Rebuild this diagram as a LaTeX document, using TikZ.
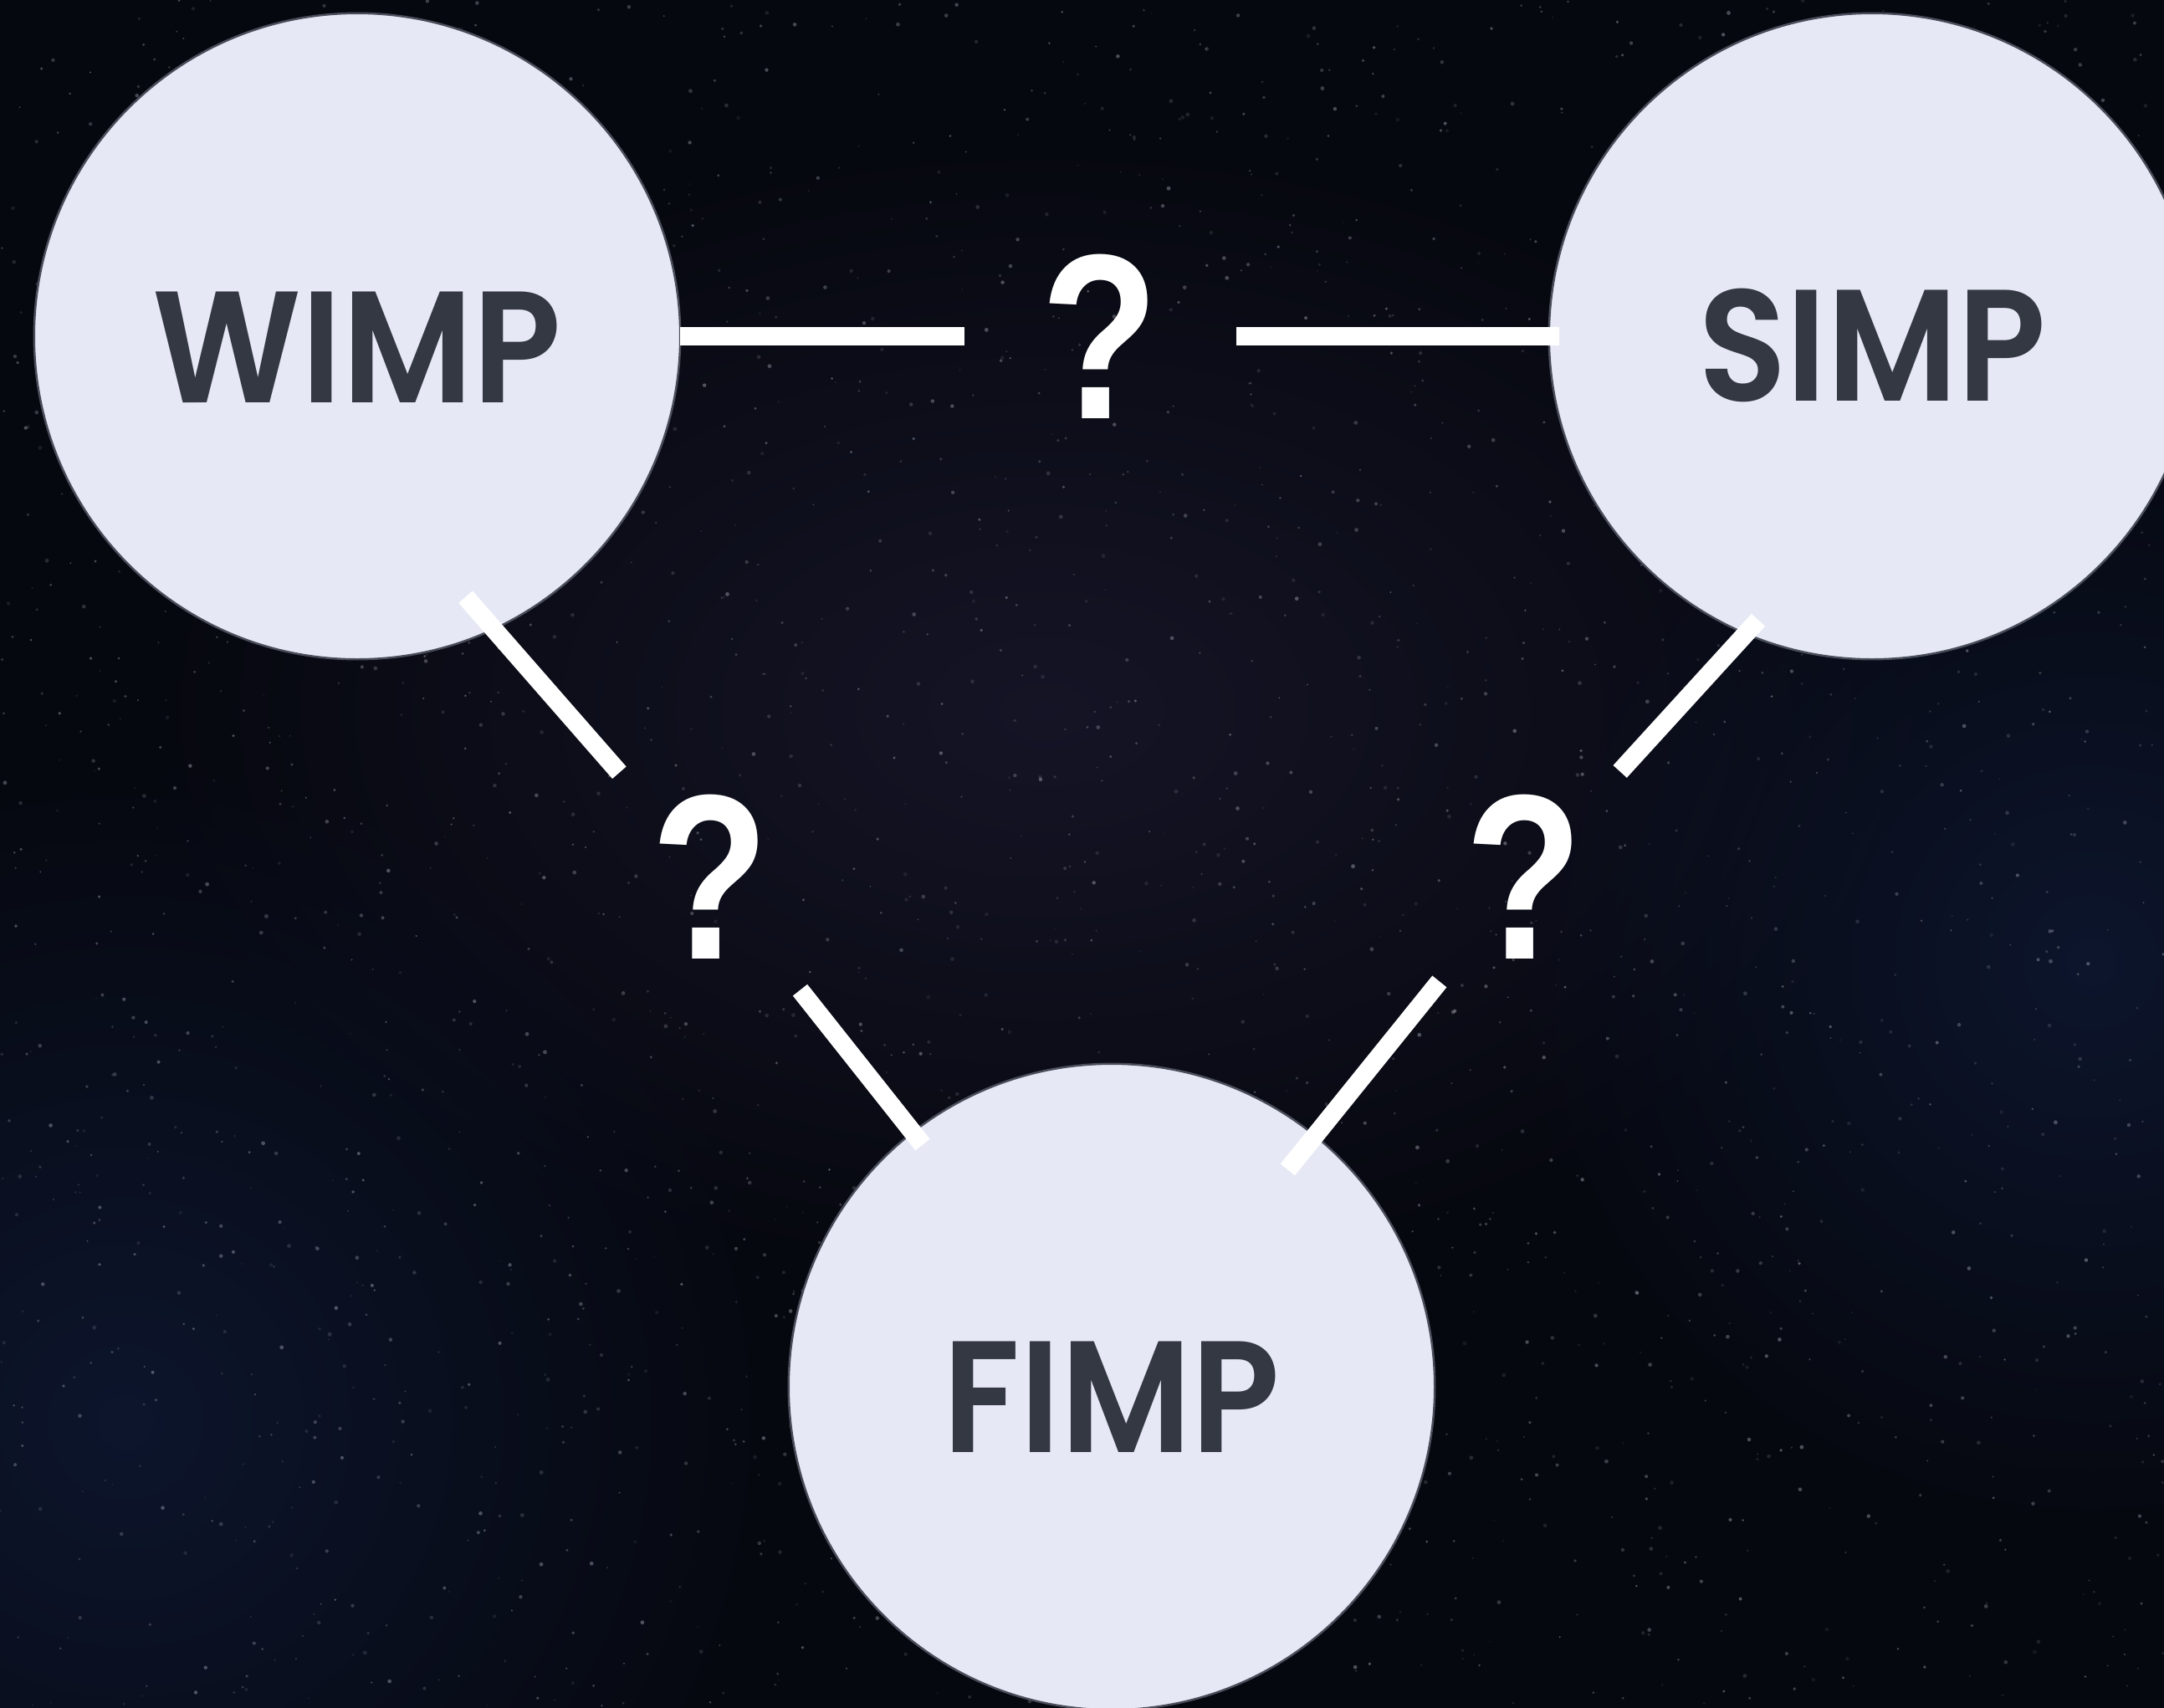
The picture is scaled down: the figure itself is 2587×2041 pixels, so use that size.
\documentclass[tikz,border=0pt]{standalone}
\usepackage{fontspec}
\setmainfont{Poppins}[BoldFont={* SemiBold}]
\newfontfamily\markfont{Liberation Sans}
\usetikzlibrary{fadings}

\definecolor{skybg}{HTML}{06080F}
\definecolor{skyhaze}{HTML}{171629}
\definecolor{skyblue}{HTML}{0E1730}
\definecolor{stardust}{HTML}{C8CAD8}
\definecolor{discfill}{HTML}{E6E9F5}
\definecolor{discline}{HTML}{4A4E5B}
\definecolor{labelgray}{HTML}{343843}

\tikzfading[name=skyglow, inner color=transparent!0, outer color=transparent!100]

% narrow white question mark and particle names
\newcommand{\qmark}{\scalebox{0.82}[1]{?}}
\newcommand{\pname}[1]{\scalebox{0.915}[1]{#1}}

\tikzset{
  disc/.style={circle, fill=discfill, draw=discline, line width=0.7pt,
    minimum size=7.72cm, inner sep=0pt, outer sep=0pt},
  tag/.style={text=labelgray, font=\fontsize{54}{54}\selectfont\bfseries, inner sep=0pt},
  query/.style={text=white, font=\markfont\fontsize{80}{80}\selectfont\bfseries, inner sep=0pt},
  link/.style={white, line width=0.22cm},
  glow/.style={path fading=skyglow, opacity=0.9},
}

\begin{document}
\begin{tikzpicture}[x=0.01cm, y=-0.01cm]
	% night sky
	\useasboundingbox (0,0) rectangle (2587,2041);
	\fill[skybg] (-20,-20) rectangle (2607,2061);
	\clip (0,0) rectangle (2587,2041);
	\fill[skyhaze, glow] (1250,850) ellipse[x radius=11cm, y radius=7cm];
	\fill[skyblue, glow] (150,1700) circle[radius=8cm];
	\fill[skyblue, glow] (2500,1150) circle[radius=7cm];

	% stars
	\pgfmathsetseed{42}
	\foreach \i in {1,...,2600}{
		\pgfmathsetmacro{\sx}{2587*rnd}
		\pgfmathsetmacro{\sy}{2041*rnd}
		\pgfmathsetmacro{\sop}{0.08+0.3*rnd}
		\pgfmathsetmacro{\srad}{0.25+0.45*rnd}
		\fill[stardust, opacity=\sop] (\sx,\sy) circle[radius=\srad pt];
	}

	% particle discs
	\node[disc] (wimp) at (427,402) {};
	\node[disc] (simp) at (2238,402) {};
	\node[disc] (fimp) at (1329,1658) {};

	\node[tag] (wimp-name) at ([yshift=-0.13cm]wimp.center) {\pname{WIMP}};
	\node[tag] (simp-name) at ([yshift=-0.11cm]simp.center) {\pname{SIMP}};
	\node[tag] (fimp-name) at ([yshift=-0.12cm]fimp.center) {\pname{FIMP}};

	% open questions between them
	\node[query] (q-ws) at (1315,402) {\qmark};
	\node[query] (q-wf) at (849,1048) {\qmark};
	\node[query] (q-sf) at (1822,1048) {\qmark};

	% links
	\draw[link, shorten >=1.62cm] (wimp.east) -- (q-ws.center);
	\draw[link, shorten <=1.63cm, shorten >=-0.12cm] (q-ws.center) -- (simp.west);
	\draw[link, shorten <=-0.51cm, shorten >=1.65cm] (wimp.-65) -- (q-wf.center);
	\draw[link, shorten <=1.73cm, shorten >=-0.19cm] (q-wf.center) -- (fimp.128);
	\draw[link, shorten <=-0.22cm, shorten >=1.70cm] (simp.-113) -- (q-sf.center);
	\draw[link, shorten <=1.61cm, shorten >=-0.52cm] (q-sf.center) -- (fimp.51);
\end{tikzpicture}
\end{document}
